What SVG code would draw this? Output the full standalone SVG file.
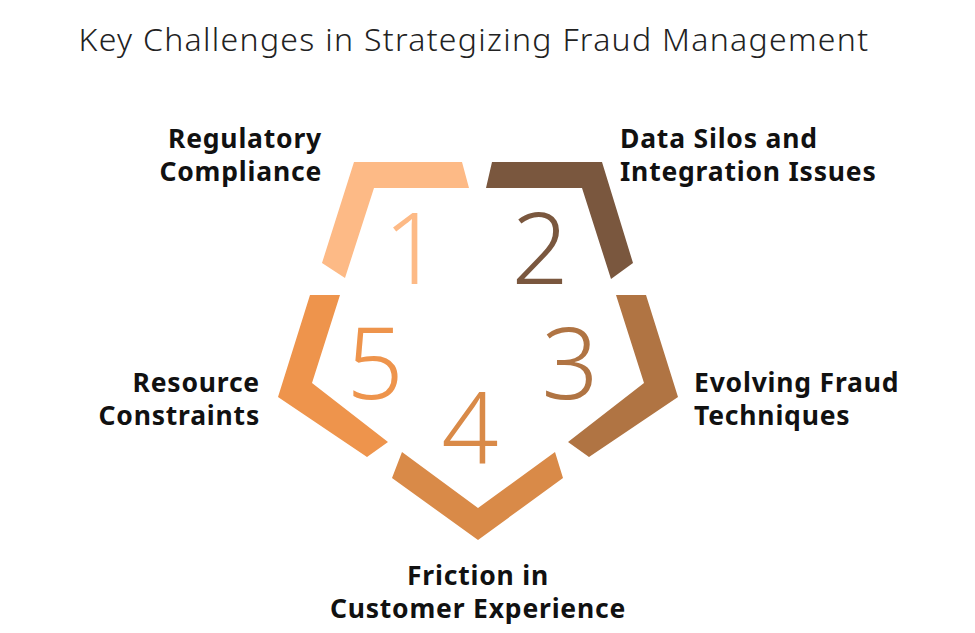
<svg xmlns="http://www.w3.org/2000/svg" width="975" height="633" viewBox="0 0 975 633">
<style>
.t{font-family:"Noto Sans","Liberation Sans",sans-serif;font-weight:300;font-size:32px;letter-spacing:1.3px;fill:#222}
.l{font-family:"Noto Sans","Liberation Sans",sans-serif;font-weight:700;font-size:26.5px;letter-spacing:0.8px;fill:#111}
.n{font-family:"Noto Sans","Liberation Sans",sans-serif;font-weight:300;font-size:100px}
</style>
<rect width="975" height="633" fill="#fff"/>
<text class="t" x="474" y="51" text-anchor="middle">Key Challenges in Strategizing Fraud Management</text>
<g id="n1"><polygon points="354,162 462,162 469,188 374,188 345,278 322,263" fill="#FDBA86"/><text class="n" x="412" y="284" text-anchor="middle" fill="#FDBA86">1</text><text class="l" x="322" y="148" text-anchor="end">Regulatory</text><text class="l" x="322" y="181" text-anchor="end">Compliance</text></g>
<g id="n2"><polygon points="486,188 492,162 602,162 633,263 611,279 582,188" fill="#7A573E"/><text class="n" x="540" y="284" text-anchor="middle" fill="#7A573E">2</text><text class="l" x="620" y="148">Data Silos and</text><text class="l" x="620" y="181">Integration Issues</text></g>
<g id="n3"><polygon points="646,295 616,295 644,383 568,442 589,457 678,397" fill="#B07443"/><text class="n" x="570" y="399" text-anchor="middle" fill="#B07443">3</text><text class="l" x="694" y="392">Evolving Fraud</text><text class="l" x="694" y="425">Techniques</text></g>
<g id="n4"><polygon points="392,478 402,452 478,508 555,452 563,478 478,540" fill="#D98A48"/><text class="n" x="470" y="464" text-anchor="middle" fill="#D98A48">4</text><text class="l" x="478" y="585" text-anchor="middle">Friction in</text><text class="l" x="478" y="618" text-anchor="middle">Customer Experience</text></g>
<g id="n5"><polygon points="310,295 340,295 312,383 388,442 367,457 278,397" fill="#EE944C"/><text class="n" x="375" y="399" text-anchor="middle" fill="#EE944C">5</text><text class="l" x="260" y="392" text-anchor="end">Resource</text><text class="l" x="260" y="425" text-anchor="end">Constraints</text></g>
<g id="connectors"/>
</svg>
